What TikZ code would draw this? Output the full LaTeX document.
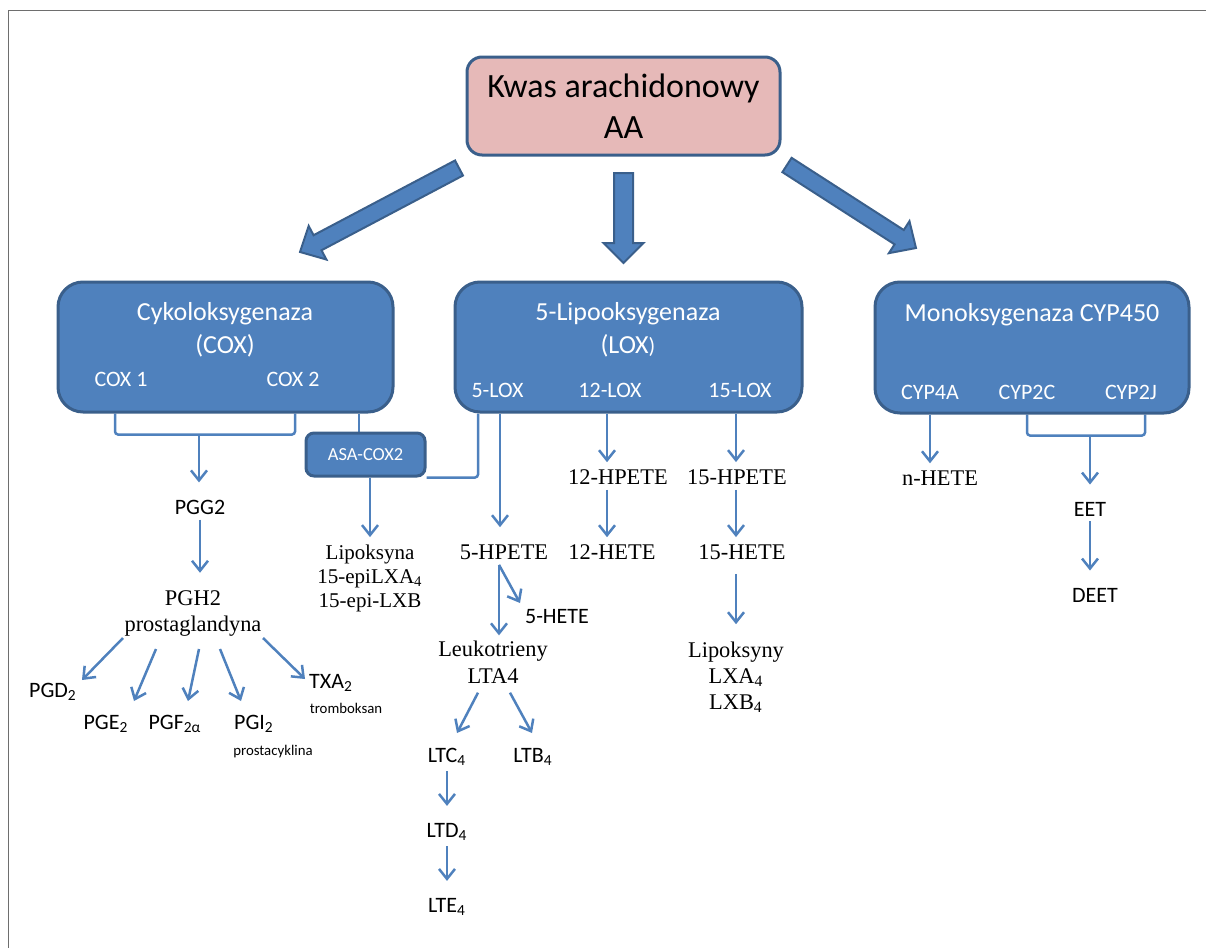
\documentclass[tikz,border=0pt]{standalone}
\usepackage{fontspec}
\setmainfont{Liberation Serif}
\newfontfamily\calfont{Carlito}
\usetikzlibrary{arrows.meta,calc}
\definecolor{boxblue}{HTML}{4F81BD}
\definecolor{boxedge}{HTML}{3A5F8B}
\definecolor{aapink}{HTML}{E6B9B8}
\definecolor{framegray}{HTML}{6E6E6E}
\pgfdeclarelayer{bg}
\pgfsetlayers{bg,main}
\tikzset{
  enz/.style={draw=boxedge, fill=boxblue, line width=1.5pt, rounded corners=12.5pt, inner sep=0pt},
  aabox/.style={draw=boxedge, fill=aapink, line width=1.5pt, rounded corners=7.5pt, inner sep=0pt, align=center, font=\calfont\fontsize{17}{20.5}\selectfont},
  asabox/.style={draw=boxedge, fill=boxblue, line width=1.5pt, rounded corners=4pt, inner sep=0pt, text=white, font=\calfont\fontsize{9.2}{11}\selectfont},
  etitle/.style={text=white, align=center, inner sep=0pt, font=\calfont\fontsize{13}{16.5}\selectfont},
  esub/.style={text=white, inner sep=0pt, font=\calfont\fontsize{11}{13}\selectfont},
  sl/.style={inner xsep=1pt, inner ysep=2.5pt, font=\calfont\fontsize{11}{13}\selectfont},
  sr/.style={inner xsep=1pt, inner ysep=2.5pt, align=center, font=\fontsize{11.2}{13}\selectfont},
  note/.style={inner sep=0pt, font=\calfont\fontsize{7.4}{9}\selectfont},
  conn/.style={draw=boxblue, line width=1.25pt, -{Straight Barb[length=5pt,width=8pt]}},
  cv/.style={conn, shorten >=6pt},
  bline/.style={draw=boxblue, line width=1.25pt, rounded corners=1.5pt},
  barrow/.style={draw=boxedge, fill=boxblue, line width=1pt, line join=miter},
}
\begin{document}
\begin{tikzpicture}[x=0.5pt, y=-0.5pt]
\useasboundingbox (0,0) rectangle (1206,948);
\draw[framegray, line width=0.75pt] (8.5,948) -- (8.5,10.5) -- (1206,10.5);

% top box
\node[aabox, minimum width=156.5pt, minimum height=49pt] (aa) at (623.5,106) {Kwas arachidonowy\\AA};

% block arrows
\begin{scope}[shift={(459,168)}, rotate=-152.15]
  \draw[barrow] (0,-8.5) -- (160,-8.5) -- (160,-19) -- (179.8,0) -- (160,19) -- (160,8.5) -- (0,8.5) -- cycle;
\end{scope}
\begin{scope}[shift={(623.5,173)}, rotate=-90]
  \draw[barrow] (0,-9.5) -- (70,-9.5) -- (70,-20) -- (90,0) -- (70,20) -- (70,9.5) -- (0,9.5) -- cycle;
\end{scope}
\begin{scope}[shift={(787,165)}, rotate=-32.76]
  \draw[barrow] (0,-8.5) -- (133.4,-8.5) -- (133.4,-19) -- (153.4,0) -- (133.4,19) -- (133.4,8.5) -- (0,8.5) -- cycle;
\end{scope}

% enzyme boxes
\node[enz, minimum width=167.5pt, minimum height=65pt] (cox) at (225.5,347) {};
\node[enz, minimum width=173.5pt, minimum height=65pt] (lox) at (628.5,347) {};
\node[enz, minimum width=157pt, minimum height=65.5pt] (cyp) at (1032,347.5) {};
\node[asabox, minimum width=59.5pt, minimum height=21.5pt] (asa) at (365.5,454.5) {ASA-COX2};

\node[etitle] (coxt) at (225,330) {Cykoloksygenaza\\(COX)};
\node[etitle] (loxt) at (628,330) {5-Lipooksygenaza\\(LOX{\fontsize{11}{13}\selectfont)}};
\node[etitle] (cypt) at (1032,315) {Monoksygenaza CYP450};
\node[esub] (cox1) at (121,379) {COX 1};
\node[esub] (cox2) at (293,379) {COX 2};
\node[esub] (lox5) at (497.5,390) {5-LOX};
\node[esub] (lox12) at (610,390) {12-LOX};
\node[esub] (lox15) at (740,390) {15-LOX};
\node[esub] (cyp4a) at (930,392) {CYP4A};
\node[esub] (cyp2c) at (1027,392) {CYP2C};
\node[esub] (cyp2j) at (1131,392) {CYP2J};

% products
\node[sl] (pgg2) at (200,507) {PGG2};
\node[sr] (pgh2) at (193,613) {PGH2\\prostaglandyna};
\node[sl] (pgd2) at (53,692) {PGD\textsubscript{2}};
\node[sl] (pge2) at (106,724) {PGE\textsubscript{2}};
\node[sl] (pgf2a) at (175,724) {PGF\textsubscript{2α}};
\node[sl] (pgi2) at (254,724) {PGI\textsubscript{2}};
\node[note] (prost) at (273,752) {prostacyklina};
\node[sl] (txa2) at (331,683) {TXA\textsubscript{2}};
\node[note] (tromb) at (346,708) {tromboksan};

\node[sr, font=\fontsize{10.5}{12}\selectfont] (lipo) at (370,578) {Lipoksyna\\15-epiLXA\textsubscript{4}\\15-epi-LXB};

\node[sr] (hpete5) at (504,552) {5-HPETE};
\node[sl] (hete5) at (557,617) {5-HETE};
\node[sr, font=\fontsize{11.2}{13.5}\selectfont] (leuk) at (493,662) {Leukotrieny\\LTA4};
\node[sl] (ltc4) at (447,757) {LTC\textsubscript{4}};
\node[sl] (ltb4) at (533,757) {LTB\textsubscript{4}};
\node[sl] (ltd4) at (447,832) {LTD\textsubscript{4}};
\node[sl] (lte4) at (447,907) {LTE\textsubscript{4}};

\node[sr] (hpete12) at (618,477) {12-HPETE};
\node[sr] (hete12) at (612,552) {12-HETE};
\node[sr] (hpete15) at (737,477) {15-HPETE};
\node[sr] (hete15) at (742,552) {15-HETE};
\node[sr] (lipos) at (736,677) {Lipoksyny\\LXA\textsubscript{4}\\LXB\textsubscript{4}};

\node[sr] (nhete) at (940,478) {n-HETE};
\node[sl] (eet) at (1090,509) {EET};
\node[sl] (deet) at (1095,595) {DEET};

\coordinate (coxj) at ($(cox.south)+(-26.5,21)$);
\coordinate (cypj) at ($(cyp.south -| eet.north)+(0,21)$);

% connectors
\begin{pgfonlayer}{bg}
\draw[bline] ([xshift=-3pt]cox1.center |- cox.south) -- ++(0,21) -| ([xshift=1pt]cox2.center |- cox.south);
\draw[bline] ([xshift=-3.25pt]asa.north) -- ([xshift=-3.25pt]asa.north |- cox.south);
\draw[bline] ([xshift=-9.75pt]lox5.center |- lox.south) |- (asa.south east);
\draw[bline] (cyp2c.center |- cyp.south) -- ++(0,21) -| ([xshift=7pt]cyp2j.center |- cyp.south);
\draw[conn, shorten >=1pt] (asa.south -| lipo.north) -- (lipo.north);
\draw[cv] ([xshift=1.25pt]lox5.center |- lox.south) -- ([xshift=1.25pt]lox5.center |- hpete5.north);
\draw[cv, shorten >=1pt] ([xshift=-1.5pt]lox12.center |- lox.south) -- ([xshift=-1.5pt]lox12.center |- hpete12.north);
\draw[cv, shorten >=1pt] ([xshift=-2pt]lox15.center |- lox.south) -- ([xshift=-2pt]lox15.center |- hpete15.north);
\draw[cv, shorten >=1pt] (cyp4a.center |- cyp.south) -- (cyp4a.center |- nhete.north);
\end{pgfonlayer}

\draw[cv] (coxj) -- (coxj |- pgg2.north);
\draw[cv] (pgg2.south) -- (pgg2.south |- pgh2.north);
\draw[conn] ($(pgh2.center)+(-70,25)$) -- ($(pgd2.center)+(29,-12)$);
\draw[conn] ($(pgh2.center)+(-37,36)$) -- ($(pge2.center)+(28,-23)$);
\draw[conn] ($(pgh2.center)+(6,36)$) -- ($(pgf2a.center)+(13,-23)$);
\draw[conn] ($(pgh2.center)+(27,36)$) -- ($(pgi2.center)+(-13,-23)$);
\draw[conn] ($(pgh2.center)+(70,25)$) -- ($(txa2.center)+(-26,-4)$);

\draw[conn] ([xshift=-2.5pt]hpete5.south) -- ([xshift=-2.5pt]hpete5.south |- leuk.north);
\draw[conn] ([xshift=-2.5pt]hpete5.south) -- ($(hete5.center)+(-37,-14)$);
\draw[conn] ($(leuk.south)+(-15,4)$) -- ($(ltc4.center)+(10,-24)$);
\draw[conn] ($(leuk.south)+(17,4)$) -- ($(ltb4.center)+(-1,-24)$);
\draw[cv] (ltc4.south) -- (ltc4.south |- ltd4.north);
\draw[cv] (ltd4.south) -- (ltd4.south |- lte4.north);

\draw[cv, shorten >=1pt] ([xshift=-5.5pt]hpete12.south) -- ([xshift=-5.5pt]hpete12.south |- hete12.north);
\draw[cv, shorten >=1pt] ([xshift=-0.5pt]hpete15.south) -- ([xshift=-0.5pt]hpete15.south |- hete15.north);
\draw[cv, shorten <=4.5pt] (hete15.south -| lipos.north) -- (lipos.north);

\draw[cv] (cypj) -- (eet.north);
\draw[cv] (eet.south) -- (eet.south |- deet.north);
\end{tikzpicture}
\end{document}
